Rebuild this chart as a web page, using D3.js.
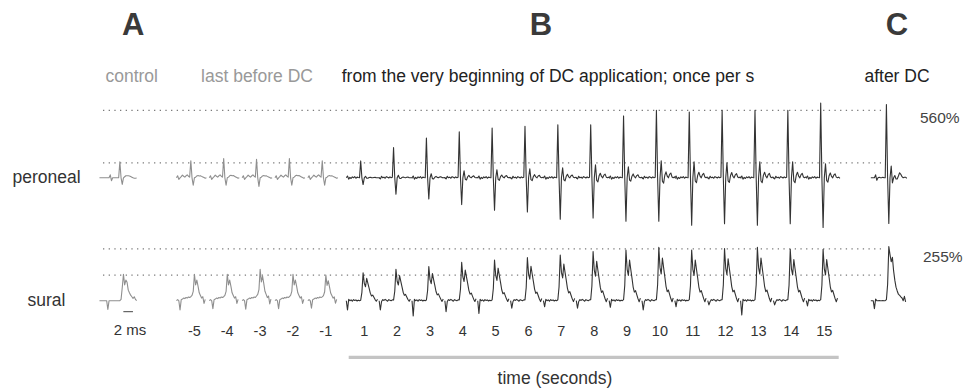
<!DOCTYPE html>
<html>
<head>
<meta charset="utf-8">
<script src="https://cdn.jsdelivr.net/npm/d3@7/dist/d3.min.js"></script>
<style>
  body { margin: 0; background: #fff; }
  svg { display: block; font-family: "Liberation Sans", Arial, sans-serif; }
</style>
</head>
<body>
<div class="chart"></div>
<script>
// sweep times (s) relative to DC onset
const preSweeps = [-5, -4, -3, -2, -1];
const dcSweeps = [1, 2, 3, 4, 5, 6, 7, 8, 9, 10, 11, 12, 13, 14, 15];

// peroneal, % of control peak: [up, down, overshoot]
const perCtrl = [71, 29, 9];
const perPreUp = [76, 86, 82, 86, 76];
const perPreDown = [33, 33, 38, 33, 33];
const perPreOver = [9, 10, 9, 10, 9];
const perDcUp = [75, 134, 177, 204, 221, 229, 236, 236, 275, 300, 292, 300, 300, 300, 332];
const perDcDown = [30, 73, 94, 119, 144, 152, 184, 179, 193, 193, 211, 204, 211, 204, 221];
const perDcOver = [7, 11, 18, 31, 36, 40, 44, 58, 49, 76, 71, 67, 71, 71, 62];
const perAfter = [326, 203, 52];
const perLevels = [66, 300];

// sural, % of control peak: [peak, stimulus artefact]
const surCtrl = [100, 33];
const surPrePeak = [100, 100, 119, 100, 97];
const surPreArt = [35, 30, 32, 30, 28];
const surDcPeak = [106, 119, 129, 145, 154, 163, 173, 186, 192, 202, 192, 198, 202, 195, 195];
const surDcArt = [35, 35, 58, 42, 48, 28, 23, 28, 25, 35, 23, 16, 54, 16, 20];
const surAfter = [205, 30];
const surLevels = [97, 196];

// waveform pieces, one sample every 0.25 ms (null = stimulus artefact)
const perNoiseCtrl = [0, 0, 0, 0, 0, 0, 0, 0, 0, 13, -13, 0, 0, 0, 0, 0, 0];
const perTailCtrl = [0.5, 1, 1, 1, 0.9, 0.6, 0.3, 0, -0.2, -0.2, -0.1];
const perNoisePre = [0, 9, -7, 0, 5, 12, 7, 3, 9, 13, 7, 3];
const perTailPre = [0.3, 0.9, 1.1, 0.9, 1.0, 0.7, 0.4, 0.1, -0.2, 0.0];
const perNoiseDc = [[0, 8, -6, 2, -3, 4, 0, 5, -2, 3, 1, 0], [0, -5, 7, 0, 3, -2, 5, 2, -1, 4, 0, 2]];
const perTailDc = [1.0, -0.2, -0.31, 0.15, 0.35, 0.1, 0.0, 0.2, 0.28, 0.05, 0.0, 0.05, -0.04];
const perNoiseAfter = [0, 0, 0, 0, 13, -11, 0, 2, 0, 0, 2, 0, 0];
const perTailAfter = [1.0, -0.43, 0.0, 0.2, -0.1, -0.1, 0.15, 0.43, 0.3, 0.1, 0.0, 0.05, 0.05, -0.05];

const surNoiseCtrl = [0, 0, 0, 0, 0, 0, 0, null, 0, 0, 0, 0, 0, 0, 0, 0, 0];
const surShapeCtrl = [0, 0.05, 0.5, 1.0, 0.6, 0.78, 0.7, 0.4, 0.3, 0.21, 0.15, 0.09, 0.15, 0.05, 0];
const surNoisePre = [0, 4, 0, null, 4, 6, 10, 8, 12, 10, 14, 12];
const surShapePre = [0.15, 0.2, 0.35, 1.0, 0.6, 0.78, 0.55, 0.3, 0.2, 0.1, 0.15, -0.1, 0.05];
const surNoiseDc = [[0, null, 5, 0, 3, -2, 4, 1, 3, -1, 2, 0], [0, null, -3, 4, 1, 5, 2, -2, 4, 2, 0, 3]];
const surShapeDc = [0.02, 0.3, 1.0, 0.62, 0.5, 0.8, 0.62, 0.45, 0.27, 0.17, 0.2, 0.12, 0.04, -0.02, 0.05];
const surNoiseAfter = [0, 0, 0, null, 6, 0, 0, 1, 0, 0, 1, 0, 0];
const surShapeAfter = [0.02, 0.3, 1.0, 0.85, 0.72, 0.8, 0.55, 0.38, 0.25, 0.18, 0.12, 0.1, 0.07, 0.05, 0.0, 0.08, -0.02];

const width = 964, height = 391;
const dt = 0.25;
const grey = '#8f8f8f', dark = '#333';

const svg = d3.select('.chart').append('svg')
  .attr('width', width)
  .attr('height', height);

// Scales
const xSlot = d3.scaleLinear().domain([1, 15]).range([360.7, 820.7]);
const xMs = d3.scaleLinear().domain([0, 1]).range([0, 4.8]);
const yPer = d3.scaleLinear().domain([0, 100]).range([177.8, 177.8 - 22.5]);
const ySur = d3.scaleLinear().domain([0, 100]).range([300.7, 300.7 - 26.4]);

const ctrlSlot = -6.33, preShift = 0.83, afterSlot = 17;

function perTrace(noise, up, down, over, tail) {
  return noise.concat([up, 0, -down, 0], tail.map(v => v * over));
}
function surTrace(noise, art, peak, shape) {
  return noise.map(v => v === null ? -art : v).concat(shape.map(v => v * peak));
}

const sweeps = [];
sweeps.push({ slot: ctrlSlot, color: grey,
  per: perTrace(perNoiseCtrl, perCtrl[0], perCtrl[1], perCtrl[2], perTailCtrl), perSpike: perNoiseCtrl.length,
  sur: surTrace(surNoiseCtrl, surCtrl[1], surCtrl[0], surShapeCtrl), surSpike: surNoiseCtrl.length });
preSweeps.forEach((s, i) => sweeps.push({ slot: s + preShift, color: grey,
  per: perTrace(perNoisePre, perPreUp[i], perPreDown[i], perPreOver[i], perTailPre), perSpike: perNoisePre.length,
  sur: surTrace(surNoisePre, surPreArt[i], surPrePeak[i], surShapePre), surSpike: surNoisePre.length }));
dcSweeps.forEach((s, i) => sweeps.push({ slot: s, color: dark,
  per: perTrace(perNoiseDc[i % 2], perDcUp[i], perDcDown[i], perDcOver[i], perTailDc), perSpike: 12,
  sur: surTrace(surNoiseDc[i % 2], surDcArt[i], surDcPeak[i], surShapeDc), surSpike: 12 }));
sweeps.push({ slot: afterSlot, color: dark,
  per: perTrace(perNoiseAfter, perAfter[0], perAfter[1], perAfter[2], perTailAfter), perSpike: perNoiseAfter.length,
  sur: surTrace(surNoiseAfter, surAfter[1], surAfter[0], surShapeAfter), surSpike: surNoiseAfter.length });

// Reference levels (dotted)
const dotted = svg.append('g')
  .attr('stroke', '#7a7a7a')
  .attr('stroke-width', 1.3)
  .attr('stroke-dasharray', '1.3,4.37');
perLevels.forEach(v => dotted.append('line')
  .attr('x1', 103).attr('x2', 881).attr('y1', yPer(v)).attr('y2', yPer(v)));
surLevels.forEach(v => dotted.append('line')
  .attr('x1', 103).attr('x2', 881).attr('y1', ySur(v)).attr('y2', ySur(v)));

// Traces
const line = d3.line();
const traces = svg.append('g').attr('fill', 'none').attr('stroke-width', 1.1).attr('stroke-linejoin', 'round');
sweeps.forEach(d => {
  const x0 = xSlot(d.slot);
  traces.append('path')
    .attr('stroke', d.color)
    .attr('d', line(d.per.map((v, i) => [x0 + xMs((i - d.perSpike) * dt), yPer(v)])));
  traces.append('path')
    .attr('stroke', d.color)
    .attr('d', line(d.sur.map((v, i) => [x0 + xMs((i - d.surSpike) * dt), ySur(v)])));
});

// Panel letters and headings
svg.selectAll('.panel')
  .data([['A', 133.3], ['B', 541], ['C', 897]])
  .enter().append('text')
  .attr('x', d => d[1]).attr('y', 35)
  .attr('text-anchor', 'middle')
  .style('font-size', '31px').style('font-weight', 'bold').style('fill', '#3a3a3a')
  .text(d => d[0]);

const heads = [
  ['control', 131.7, '#999', 'middle'],
  ['last before DC', 257, '#999', 'middle'],
  ['from the very beginning of DC application; once per s', 341.7, '#222', 'start'],
  ['after DC', 897, '#222', 'middle']
];
svg.selectAll('.head')
  .data(heads)
  .enter().append('text')
  .attr('x', d => d[1]).attr('y', 82)
  .attr('text-anchor', d => d[3])
  .style('font-size', '17.5px').style('fill', d => d[2])
  .text(d => d[0]);

// Row labels
svg.append('text').attr('x', 46.5).attr('y', 183).attr('text-anchor', 'middle')
  .style('font-size', '17.5px').style('fill', '#333').text('peroneal');
svg.append('text').attr('x', 46.5).attr('y', 306).attr('text-anchor', 'middle')
  .style('font-size', '17.5px').style('fill', '#333').text('sural');

// Percent labels
svg.append('text').attr('x', 920).attr('y', 122.7)
  .style('font-size', '15.5px').style('fill', '#444').text('560%');
svg.append('text').attr('x', 923).attr('y', 262)
  .style('font-size', '15.5px').style('fill', '#444').text('255%');

// Sweep time labels
const tickData = preSweeps.map(s => [s, s + preShift]).concat(dcSweeps.map(s => [s, s]));
svg.selectAll('.tick')
  .data(tickData)
  .enter().append('text')
  .attr('x', d => xSlot(d[1]) + 3.5).attr('y', 336)
  .attr('text-anchor', 'middle')
  .style('font-size', '14.5px').style('fill', '#333')
  .text(d => d[0]);

// 2 ms scale bar
const sbX = xSlot(ctrlSlot) + 3.5;
svg.append('line')
  .attr('x1', sbX).attr('x2', sbX + xMs(2))
  .attr('y1', 311.7).attr('y2', 311.7)
  .attr('stroke', '#444').attr('stroke-width', 1);
svg.append('text').attr('x', 130).attr('y', 335).attr('text-anchor', 'middle')
  .style('font-size', '15px').style('fill', '#333').text('2 ms');

// time axis
svg.append('line')
  .attr('x1', xSlot(dcSweeps[0]) - 12).attr('x2', xSlot(dcSweeps[dcSweeps.length - 1]) + 18)
  .attr('y1', 357.3).attr('y2', 357.3)
  .attr('stroke', '#c4c4c4').attr('stroke-width', 3.3);
svg.append('text').attr('x', 555).attr('y', 384).attr('text-anchor', 'middle')
  .style('font-size', '17.5px').style('fill', '#333').text('time (seconds)');
</script>
</body>
</html>
